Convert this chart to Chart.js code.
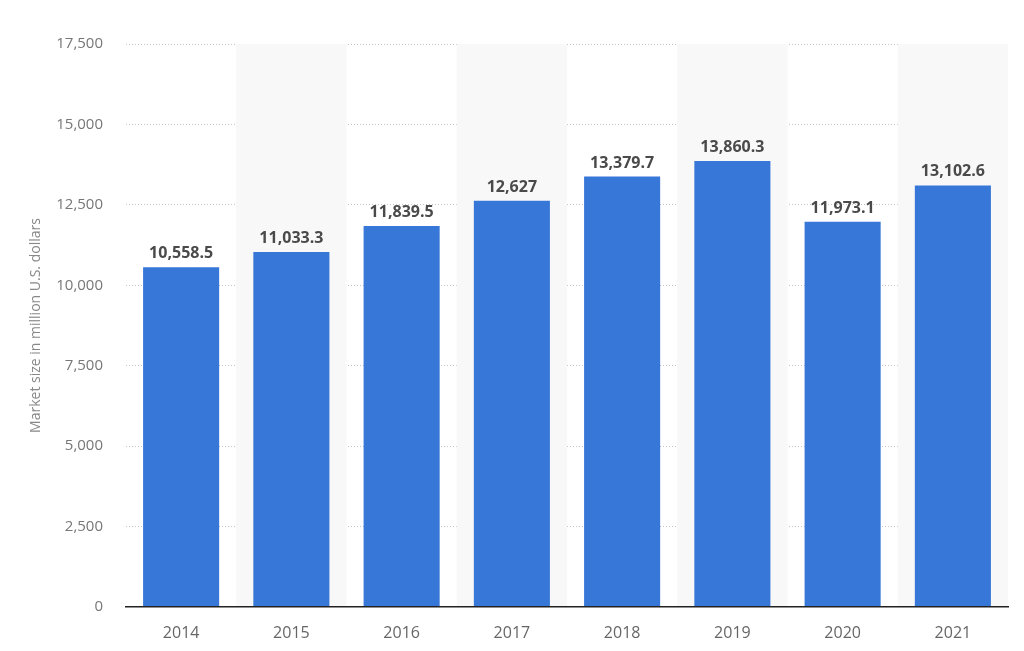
<!DOCTYPE html>
<html>
<head>
<meta charset="utf-8">
<script src="https://cdn.jsdelivr.net/npm/chart.js@4/dist/chart.umd.min.js"></script>
<style>
  html, body { margin: 0; padding: 0; background: #fff; }
  #wrap { width: 1024px; height: 651px; }
</style>
</head>
<body>
<div id="wrap"><canvas id="chart"></canvas></div>
<script>
// data
const years = ["2014", "2015", "2016", "2017", "2018", "2019", "2020", "2021"];
const marketSize = [10558.5, 11033.3, 11839.5, 12627, 13379.7, 13860.3, 11973.1, 13102.6];
const yTicks = [0, 2500, 5000, 7500, 10000, 12500, 15000, 17500];

// shaded columns behind every other year
const bandPlugin = {
    id: "bands",
    beforeDatasetsDraw(chart) {
        let ctx = chart.ctx;
        let x = chart.scales.x;
        let area = chart.chartArea;
        let step = x.getPixelForValue(1) - x.getPixelForValue(0);
        ctx.save();
        ctx.fillStyle = "#f8f8f8";
        years.forEach((y, i) => {
            if (i % 2 === 1) {
                let c = x.getPixelForValue(i);
                ctx.fillRect(c - step / 2, area.top, step, area.bottom - area.top);
            }
        });
        ctx.restore();
    }
};

// value labels on top of bars
const labelPlugin = {
    id: "barLabels",
    afterDatasetsDraw(chart) {
        let ctx = chart.ctx;
        let meta = chart.getDatasetMeta(0);
        ctx.save();
        ctx.font = "bold 16px 'Open Sans'";
        ctx.fillStyle = "#4a4a4a";
        ctx.textAlign = "center";
        ctx.textBaseline = "alphabetic";
        meta.data.forEach((bar, i) => {
            ctx.fillText(marketSize[i].toLocaleString("en-US"), bar.x, bar.y - 9);
        });
        ctx.restore();
    }
};

new Chart(document.getElementById("chart"), {
    type: "bar",
    data: {
        labels: years,
        datasets: [{
            data: marketSize,
            backgroundColor: "#3677d8",
            borderWidth: 0,
            barPercentage: 0.69,
            categoryPercentage: 1
        }]
    },
    options: {
        responsive: true,
        maintainAspectRatio: false,
        animation: false,
        layout: { padding: { left: 0, right: 16, top: 44, bottom: 0 } },
        plugins: { legend: { display: false }, tooltip: { enabled: false } },
        scales: {
            x: {
                grid: { display: false },
                border: { display: true, color: "#222", width: 1.5, z: 1 },
                ticks: { color: "#666", font: { family: "Open Sans", size: 16 }, padding: 9 },
                afterFit: s => { s.height = 44; }
            },
            y: {
                min: 0,
                max: 17500,
                afterBuildTicks: s => { s.ticks = yTicks.map(v => ({ value: v })); },
                grid: {
                    color: ctx => ctx.tick && ctx.tick.value === 0 ? "rgba(0,0,0,0)" : "#c4c4c4",
                    lineWidth: 1,
                    drawTicks: false
                },
                border: { display: false, dash: [1, 2] },
                ticks: {
                    color: "#777",
                    padding: 23,
                    font: { family: "Open Sans", size: 15 },
                    callback: v => v.toLocaleString("en-US")
                },
                title: {
                    display: true,
                    text: "Market size in million U.S. dollars",
                    color: "#888",
                    font: { family: "Open Sans", size: 14 },
                    padding: { top: 28, bottom: 0 }
                },
                afterFit: s => { s.width = 126; }
            }
        }
    },
    plugins: [bandPlugin, labelPlugin]
});
</script>
</body>
</html>
